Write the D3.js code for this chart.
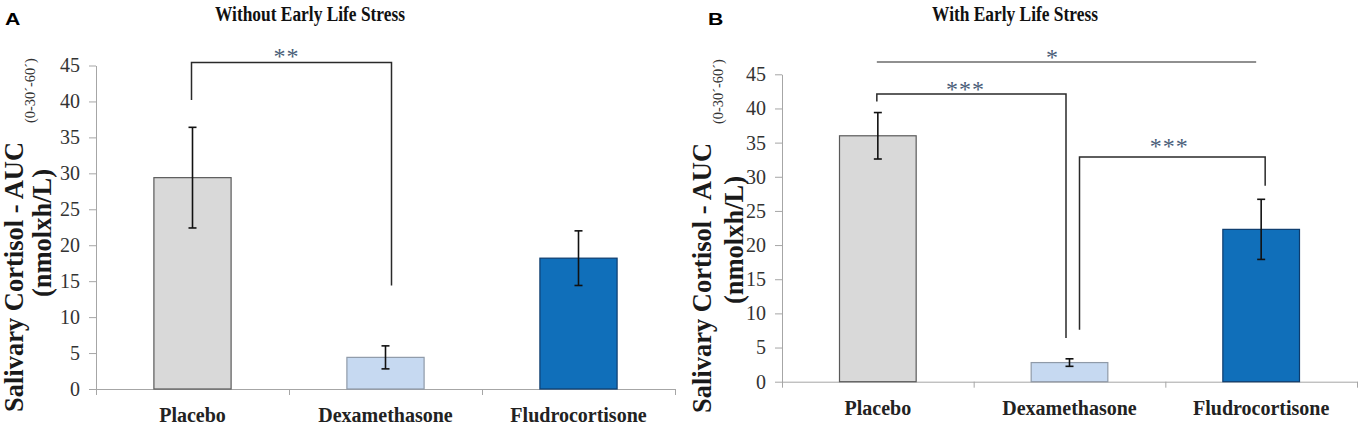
<!DOCTYPE html>
<html>
<head>
<meta charset="utf-8">
<script src="https://cdn.jsdelivr.net/npm/d3@7"></script>
<style>
  body { margin: 0; background: #fff; }
  svg { display: block; }
</style>
</head>
<body>
<script>
// Dados
const categories = ["Placebo", "Dexamethasone", "Fludrocortisone"];
const meanWithout = [29.4, 4.4, 18.2];
const errWithout = [7.0, 1.6, 3.8];
const meanWith = [36.0, 2.8, 22.3];
const errWith = [3.4, 0.55, 4.4];
const yTicks = [0, 5, 10, 15, 20, 25, 30, 35, 40, 45];
const titles = ["Without Early Life Stress", "With Early Life Stress"];
const panelLetters = ["A", "B"];
const yLabel = ["Salivary Cortisol - AUC", "(0-30´-60´)", "(nmolxh/L)"];

// brackets de significância (em unidades do eixo y)
const sigWithout = [
  { from: "Placebo", to: "Dexamethasone", level: 45.4, fromEnd: 40.2, toEnd: 14.4, label: "**" }
];
const sigWith = [
  { from: "Placebo", to: "Fludrocortisone", level: 46.8, fromEnd: 46.8, toEnd: 46.8, label: "*" },
  { from: "Placebo", to: "Dexamethasone", level: 42.1, fromEnd: 41.0, toEnd: 6.4, label: "***" },
  { from: "Dexamethasone", to: "Fludrocortisone", level: 32.9, fromEnd: 7.6, toEnd: 28.7, label: "***" }
];

const barFill = ["#d9d9d9", "#c6d9f1", "#106fba"];
const barStroke = ["#5a5a5a", "#8f9aa8", "#0d3c6e"];

const serif = '"Liberation Serif", Tinos, serif';
const sans = '"Liberation Sans", Arimo, sans-serif';

const svg = d3.select("body").append("svg")
  .attr("width", 1364)
  .attr("height", 430);

// layout de cada painel
const panels = [
  {
    means: meanWithout, errs: errWithout, sig: sigWithout,
    left: 96, right: 675, top: 65.5, bottom: 389,
    titleX: 310, letterX: 5,
    labelX: [22.5, 34.5, 51], labelY: [412, 123, 233],
    legDx: [[-1, 6]], starDx: [-5], starGap: [10]
  },
  {
    means: meanWith, errs: errWith, sig: sigWith,
    left: 782, right: 1357, top: 74.3, bottom: 381.7,
    titleX: 1015, letterX: 708,
    labelX: [711, 723, 743], labelY: [413, 124, 240],
    legDx: [[-1, -5], [-1, -3.5], [10, 4]], starDx: [-14, -6, -3], starGap: [8, 8, 14]
  }
];

panels.forEach((p, i) => {
  const g = svg.append("g");

  const x = d3.scaleBand()
    .domain(categories)
    .range([p.left, p.right])
    .paddingInner(0.6)
    .paddingOuter(0.3);

  const y = d3.scaleLinear()
    .domain([0, 45])
    .range([p.bottom, p.top]);

  const slots = d3.scaleLinear()
    .domain([0, categories.length])
    .range([p.left, p.right]);

  // eixo y
  const yAxis = g.append("g")
    .attr("transform", `translate(${p.left},0)`)
    .call(d3.axisLeft(y).tickValues(yTicks).tickSize(7).tickPadding(9).tickSizeOuter(0).tickFormat(d3.format("d")));
  yAxis.attr("font-family", null).attr("font-size", null);
  yAxis.select(".domain").attr("stroke", "#a6a6a6");
  yAxis.selectAll(".tick line").attr("stroke", "#a6a6a6");
  yAxis.selectAll(".tick text")
    .style("font-family", serif)
    .style("font-size", "20px")
    .attr("fill", "#333");

  // eixo x: linha e marcas entre categorias
  const xLine = g.append("g")
    .attr("transform", `translate(0,${p.bottom})`)
    .call(d3.axisBottom(slots).tickValues(d3.range(0, categories.length + 1)).tickSize(6).tickSizeOuter(0).tickFormat(""));
  xLine.select(".domain").attr("stroke", "#a6a6a6");
  xLine.selectAll(".tick line").attr("stroke", "#a6a6a6");

  const xAxis = g.append("g")
    .attr("transform", `translate(0,${p.bottom})`)
    .call(d3.axisBottom(x).tickSize(0));
  xAxis.attr("font-family", null).attr("font-size", null);
  xAxis.select(".domain").remove();
  xAxis.selectAll(".tick text")
    .attr("dy", null)
    .attr("y", 33)
    .style("font-family", serif)
    .style("font-weight", "bold")
    .style("font-size", "20px")
    .attr("fill", "#222");

  // barras
  g.selectAll(".bar")
    .data(categories)
    .join("rect")
    .attr("class", "bar")
    .attr("x", d => x(d))
    .attr("y", (d, j) => y(p.means[j]))
    .attr("width", x.bandwidth())
    .attr("height", (d, j) => y(0) - y(p.means[j]))
    .attr("fill", (d, j) => barFill[j])
    .attr("stroke", (d, j) => barStroke[j])
    .attr("stroke-width", 1.2);

  // barras de erro
  const cx = d => x(d) + x.bandwidth() / 2;
  const err = g.selectAll(".err")
    .data(categories)
    .join("g")
    .attr("class", "err")
    .attr("stroke", "#111")
    .attr("stroke-width", 1.6);
  err.append("line")
    .attr("x1", cx).attr("x2", cx)
    .attr("y1", (d, j) => y(p.means[j] - p.errs[j]))
    .attr("y2", (d, j) => y(p.means[j] + p.errs[j]));
  err.append("line")
    .attr("x1", d => cx(d) - 4).attr("x2", d => cx(d) + 4)
    .attr("y1", (d, j) => y(p.means[j] + p.errs[j]))
    .attr("y2", (d, j) => y(p.means[j] + p.errs[j]));
  err.append("line")
    .attr("x1", d => cx(d) - 4).attr("x2", d => cx(d) + 4)
    .attr("y1", (d, j) => y(p.means[j] - p.errs[j]))
    .attr("y2", (d, j) => y(p.means[j] - p.errs[j]));

  // brackets de significância
  p.sig.forEach((s, k) => {
    const x1 = cx(s.from) + p.legDx[k][0];
    const x2 = cx(s.to) + p.legDx[k][1];
    const flat = s.fromEnd === s.level && s.toEnd === s.level;
    g.append("path")
      .attr("d", `M${x1},${y(s.fromEnd)}V${y(s.level)}H${x2}V${y(s.toEnd)}`)
      .attr("fill", "none")
      .attr("stroke", flat ? "#6b6b6b" : "#2a2a2a")
      .attr("stroke-width", 1.5);
    const fs = 24;
    g.append("text")
      .attr("x", (x1 + x2) / 2 + p.starDx[k])
      .attr("y", y(s.level) - p.starGap[k] + 0.47 * fs)
      .attr("text-anchor", "middle")
      .style("font-family", serif)
      .style("font-size", fs + "px")
      .style("letter-spacing", "1px")
      .attr("fill", "#4a5d78")
      .text(s.label);
  });

  // título
  svg.append("text")
    .attr("transform", `translate(${p.titleX},21) scale(0.79,1)`)
    .attr("text-anchor", "middle")
    .style("font-family", serif)
    .style("font-weight", "bold")
    .style("font-size", "22px")
    .attr("fill", "#111")
    .text(titles[i]);

  // letra do painel
  svg.append("text")
    .attr("transform", `translate(${p.letterX},25) scale(1.25,1)`)
    .style("font-family", sans)
    .style("font-weight", "bold")
    .style("font-size", "17px")
    .attr("fill", "#000")
    .text(panelLetters[i]);

  // rótulo do eixo y
  svg.append("text")
    .attr("transform", `translate(${p.labelX[0]},${p.labelY[0]}) rotate(-90)`)
    .style("font-family", serif)
    .style("font-weight", "bold")
    .style("font-size", "26.5px")
    .attr("fill", "#1a1a1a")
    .text(yLabel[0]);
  svg.append("text")
    .attr("transform", `translate(${p.labelX[1]},${p.labelY[1]}) rotate(-90)`)
    .style("font-family", serif)
    .style("font-size", "14.4px")
    .attr("fill", "#333")
    .text(yLabel[1]);
  svg.append("text")
    .attr("transform", `translate(${p.labelX[2]},${p.labelY[2]}) rotate(-90)`)
    .attr("text-anchor", "middle")
    .style("font-family", serif)
    .style("font-weight", "bold")
    .style("font-size", "26.5px")
    .attr("fill", "#1a1a1a")
    .text(yLabel[2]);
});
</script>
</body>
</html>
